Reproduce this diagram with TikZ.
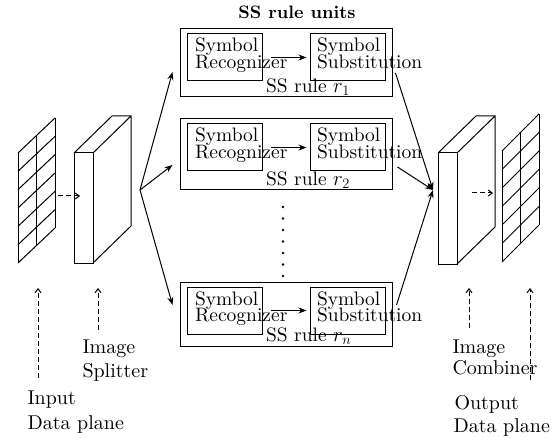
\documentclass[tikz,border=0pt]{standalone}
\usepackage{fontspec}
% Latin Modern at its 10pt design size, scaled up
\setmainfont{lmroman10-regular}[Extension=.otf, BoldFont=lmroman10-bold, ItalicFont=lmroman10-italic]
\usetikzlibrary{arrows.meta,calc,fit}

% one SS rule unit: #1 name, #2 top edge, #3 bottom edge, #4 rule index
\newcommand\ssunit[4]{%
  \pgfmathsetmacro\inTop{#2+5}%
  \pgfmathsetmacro\inBot{#2+52}%
  \node[unitbox, fit={(180,#2)(392,#3)}] (u#1) {};
  \node[fnbox, fit={(187,\inTop)(262,\inBot)}] (rec#1) {};
  \node[fnbox, fit={(310,\inTop)(385,\inBot)}] (sub#1) {};
  \node[txt] (recA#1) at ($(rec#1.north west)+(8,18.5)$) {Symbol};
  \node[txt] (recB#1) at ($(recA#1.base west)+(0,16.8)$) {Recognizer};
  \node[txt] (subA#1) at ($(sub#1.north west)+(7,18.5)$) {Symbol};
  \node[txt] (subB#1) at ($(subA#1.base west)+(0,16.8)$) {Substitution};
  \draw[arr] ($(rec#1.north east)+(8,24)$) -- ($(sub#1.north west)+(-3,24)$);
  \node[txt] (lab#1) at ($(u#1.south west)+(86,-5)$) {SS rule $r_{#4}$};
}

% a 3-D slab: #1 front-left x, #2 front-top y, #3 front width, #4 height
\newcommand\slab[4]{%
  \draw (#1,#2) rectangle ++(#3,#4);
  \draw (#1,#2) -- ++(38,-37) -- ++(#3,0) -- ++(0,#4) -- ++(-38,37)
        (#1+#3,#2) -- ++(38,-37);
}

% a data plane grid of 2 x 6 cells: #1 left x, #2 left top y, #3 right x, #4 right top y, #5 height
\newcommand\dplane[5]{%
  \foreach \k in {0,...,6} \draw (#1,{#2+\k*#5/6}) -- (#3,{#4+\k*#5/6});
  \draw (#1,#2) -- (#1,#2+#5) (#3,#4) -- (#3,#4+#5)
        ({(#1+#3)/2},{(#2+#4)/2}) -- ({(#1+#3)/2},{(#2+#4)/2+#5});
}

\begin{document}
\begin{tikzpicture}[x=1pt,y=-1pt,line width=1pt,
  txt/.style={inner sep=0pt, anchor=base west, font=\fontsize{19.5}{22}\selectfont},
  lbl/.style={inner sep=0pt, anchor=base west, font=\fontsize{20}{23}\selectfont},
  unitbox/.style={draw, inner sep=0pt},
  fnbox/.style={draw, inner sep=0pt},
  arr/.style={-{Stealth[length=8pt,width=6pt]}},
  darr/.style={-{Straight Barb[length=4pt,width=6pt]}, dash pattern=on 5pt off 3pt},
]
\useasboundingbox (0,0) rectangle (559,438);

% title
\node[inner sep=0pt, anchor=base, font=\bfseries\fontsize{18}{22}\selectfont]
  (title) at (297,19) {SS rule units};

% input plane and image splitter
\dplane{18}{153}{55}{118}{110}
\slab{74}{153}{19}{110}
\coordinate (inR) at (58,196);
\coordinate (splL) at (80,196);
\draw[darr] (inR) -- (splL);

% rule units
\ssunit{1}{29}{97}{1}
\ssunit{2}{119}{190}{2}
\ssunit{n}{282}{346}{n}
\foreach \i in {0,...,6} \fill (283,{207+\i*11.5}) circle (1.3pt);

% fan-out from the splitter, fan-in to the combiner
\coordinate (fanout) at (140,190);
\coordinate (fanin) at (433,190);
\draw[arr] (fanout) -- ($(u1.west)+(-7,9)$);
\draw[arr] (fanout) -- ($(u2.west)+(-7,10.5)$);
\draw[arr] (fanout) -- ($(un.west)+(-7,-9)$);
\draw[arr] ($(u1.east)+(3,10)$) -- (fanin);
\draw[arr] ($(u2.east)+(5,12.5)$) -- (fanin);
\draw[arr] ($(un.east)+(4,-9)$) -- (fanin);

% image combiner and output plane
\slab{438}{153}{19}{111}
\dplane{502}{151}{539}{114}{111}
\coordinate (cmbR) at (472,193);
\coordinate (outL) at (493,193);
\draw[darr] (cmbR) -- (outL);

% pointers from the captions
\coordinate (pIn) at (38,288);   \coordinate (pInB) at (38,378);
\coordinate (pSp) at (98,288);   \coordinate (pSpB) at (98,330);
\coordinate (pCb) at (469,288);  \coordinate (pCbB) at (469,328);
\coordinate (pOut) at (530,288); \coordinate (pOutB) at (530,380);
\draw[darr] (pInB) -- (pIn);
\draw[darr] (pSpB) -- (pSp);
\draw[darr] (pCbB) -- (pCb);
\draw[darr] (pOutB) -- (pOut);

% captions
\node[lbl] (spl1) at (82,353) {Image};
\node[lbl] (spl2) at (82,377) {Splitter};
\node[lbl] (in1) at (27,404) {Input};
\node[lbl] (in2) at (27,429) {Data plane};
\node[lbl] (cmb1) at (452,353) {Image};
\node[lbl] (cmb2) at (452,374) {Combiner};
\node[lbl] (out1) at (454,409) {Output};
\node[lbl] (out2) at (453,432) {Data plane};
\end{tikzpicture}
\end{document}
